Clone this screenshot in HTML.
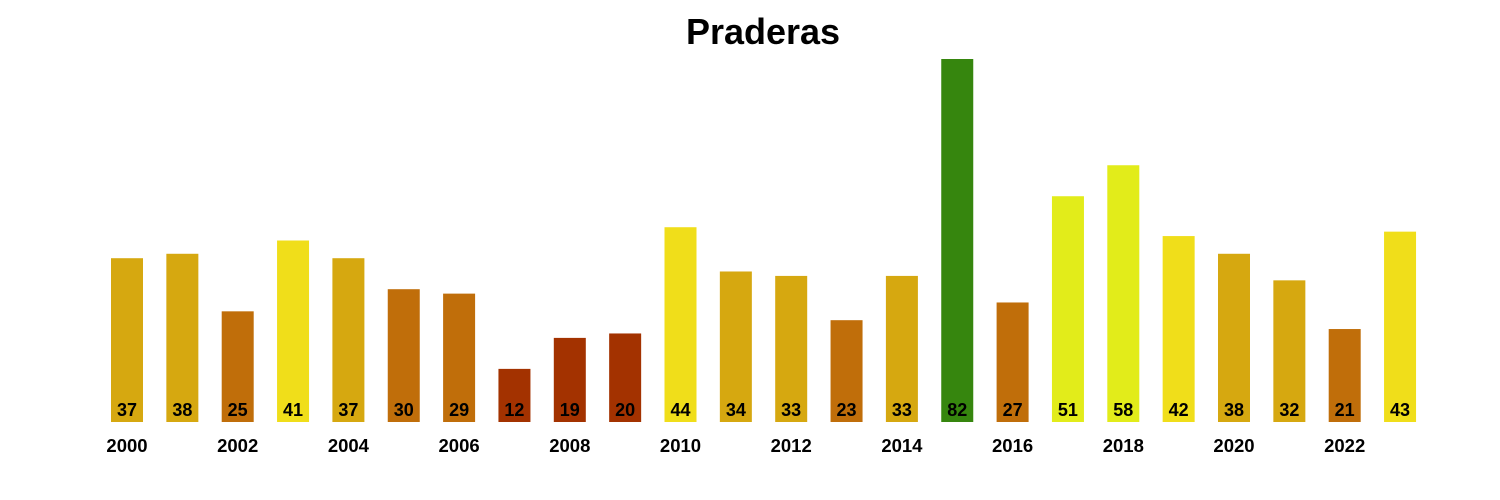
<!DOCTYPE html>
<html><head><meta charset="utf-8"><style>
body{margin:0;background:#fff;}
svg{display:block;font-family:"Liberation Sans",Arial,sans-serif;}
</style></head><body>
<svg id="chart" width="1500" height="500" viewBox="0 0 1500 500">
<text x="763" y="44" text-anchor="middle" font-size="36" font-weight="bold">Praderas</text>
<g id="bars"></g>
</svg>
<script>
const years=[2000,2001,2002,2003,2004,2005,2006,2007,2008,2009,2010,2011,2012,2013,2014,2015,2016,2017,2018,2019,2020,2021,2022,2023];
const values=[37,38,25,41,37,30,29,12,19,20,44,34,33,23,33,82,27,51,58,42,38,32,21,43];
const x0=127,step=55.35,bw=32,base=422,scale=363/82;
function xPos(i){return x0+i*step;}
function yPos(v){return base-v*scale;}
function color(v){if(v<=20)return '#a33200';if(v<=30)return '#c06e0a';if(v<=40)return '#d6a810';if(v<=50)return '#f0de1a';if(v<=60)return '#e2ec1a';return '#36860e';}
const g=document.getElementById('bars');const ns='http://www.w3.org/2000/svg';
values.forEach((v,i)=>{
 const r=document.createElementNS(ns,'rect');
 
 
 r.setAttribute('x',xPos(i)-bw/2);r.setAttribute('y',yPos(v));r.setAttribute('width',bw);r.setAttribute('height',base-yPos(v));r.setAttribute('fill',color(v));g.appendChild(r);
 const t=document.createElementNS(ns,'text');
 
 
 t.setAttribute('x',xPos(i));t.setAttribute('y',416);t.setAttribute('text-anchor','middle');t.setAttribute('font-size','18');t.setAttribute('font-weight','bold');t.textContent=v;g.appendChild(t);
 if(i%2===0){const y=document.createElementNS(ns,'text');
 
 
 y.setAttribute('x',xPos(i));y.setAttribute('y',452);y.setAttribute('text-anchor','middle');y.setAttribute('font-size','18.5');y.setAttribute('font-weight','bold');y.textContent=years[i];g.appendChild(y);}
});
</script>
</body></html>
